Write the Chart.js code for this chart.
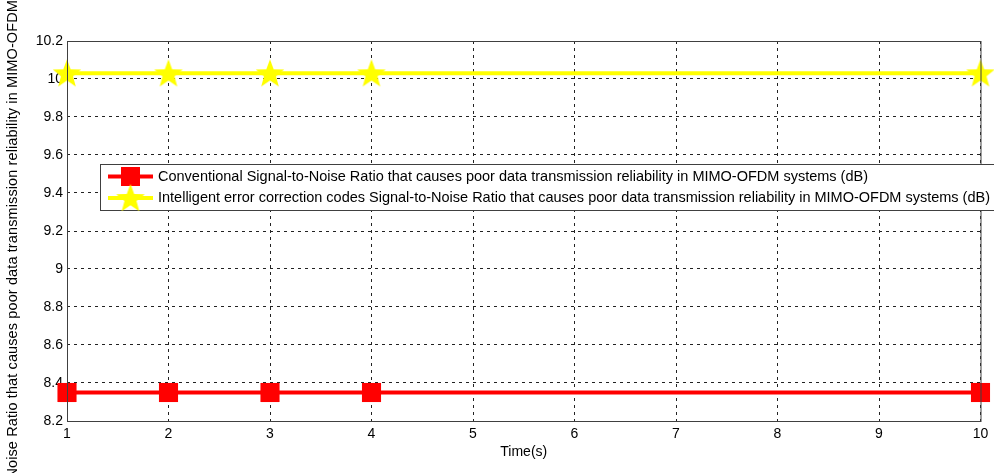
<!DOCTYPE html>
<html>
<head>
<meta charset="utf-8">
<script src="https://cdn.jsdelivr.net/npm/chart.js@4.4.0/dist/chart.umd.min.js"></script>
<style>
  html, body { margin: 0; padding: 0; background: #fff; }
  #wrap { width: 994px; height: 473px; position: relative; }
</style>
</head>
<body>
<div id="wrap"><canvas id="myChart"></canvas></div>
<script>
const timeValues = [1, 2, 3, 4, 10]
const conventionalSnr = [8.35, 8.35, 8.35, 8.35, 8.35]
const intelligentSnr = [10.03, 10.03, 10.03, 10.03, 10.03]
const xTicks = [1, 2, 3, 4, 5, 6, 7, 8, 9, 10]
const yTicks = [8.2, 8.4, 8.6, 8.8, 9, 9.2, 9.4, 9.6, 9.8, 10, 10.2]

const labelConventional = 'Conventional Signal-to-Noise Ratio that causes poor data transmission reliability in MIMO-OFDM systems (dB)'
const labelIntelligent = 'Intelligent error correction codes Signal-to-Noise Ratio that causes poor data transmission reliability in MIMO-OFDM systems (dB)'
const yTitle = 'Signal-to-Noise Ratio that causes poor data transmission reliability in MIMO-OFDM systems (dB)'

const FONT = 'Liberation Sans, Arial, Helvetica, sans-serif'

// filled five point star used as marker
const makeStar = (color, r) => {
  const c = document.createElement('canvas')
  const size = r * 2 + 2
  c.width = size
  c.height = size
  const g = c.getContext('2d')
  const cx = size / 2
  const cy = size / 2 + 1
  g.beginPath()
  for (let i = 0; i < 10; i++) {
    const rad = i % 2 === 0 ? r : r * 0.42
    const a = -Math.PI / 2 + i * Math.PI / 5
    const px = cx + rad * Math.cos(a)
    const py = cy + rad * Math.sin(a)
    if (i === 0) g.moveTo(px, py)
    else g.lineTo(px, py)
  }
  g.closePath()
  g.fillStyle = color
  g.fill()
  return c
}
const starImg = makeStar('#ffff00', 15)

const toPoints = (xs, ys) => xs.map((x, i) => ({ x, y: ys[i] }))

// spread text so it covers a given width
const fitSpacing = (ctx, text, width) => {
  ctx.letterSpacing = '0px'
  const w = ctx.measureText(text).width
  return (width - w) / text.length
}

const framePlugin = {
  id: 'frame',
  afterDraw(chart) {
    const { ctx, chartArea: a } = chart
    ctx.save()
    ctx.strokeStyle = '#404040'
    ctx.lineWidth = 1
    ctx.strokeRect(a.left + 0.5, a.top + 0.5, a.right - a.left, a.bottom - a.top)
    ctx.restore()
  }
}

const yTitlePlugin = {
  id: 'yTitle',
  afterDraw(chart) {
    const { ctx } = chart
    ctx.save()
    ctx.font = '14.5px ' + FONT
    const shown = yTitle.slice(yTitle.indexOf('oise'), yTitle.indexOf(' systems'))
    const sp = fitSpacing(ctx, shown, 468)
    ctx.letterSpacing = sp + 'px'
    const pre = ctx.measureText('Signal-to-N').width
    ctx.translate(13, 468 + pre)
    ctx.rotate(-Math.PI / 2)
    ctx.fillStyle = '#000'
    ctx.textAlign = 'left'
    ctx.textBaseline = 'middle'
    ctx.fillText(yTitle, 0, 0)
    ctx.restore()
  }
}

const legendPlugin = {
  id: 'boxLegend',
  afterDraw(chart) {
    const { ctx } = chart
    const left = 100
    const top = 164
    const right = 1000
    const bottom = 210
    const widths = [710, 832]
    ctx.save()
    ctx.fillStyle = '#fff'
    ctx.fillRect(left, top, right - left, bottom - top)
    ctx.strokeStyle = '#404040'
    ctx.lineWidth = 1
    ctx.strokeRect(left + 0.5, top + 0.5, right - left, bottom - top)
    const rows = [176.5, 198]
    chart.data.datasets.forEach((ds, i) => {
      const y = rows[i]
      ctx.letterSpacing = '0px'
      ctx.strokeStyle = ds.borderColor
      ctx.lineWidth = 4
      ctx.beginPath()
      ctx.moveTo(108, y)
      ctx.lineTo(153, y)
      ctx.stroke()
      if (ds.pointStyle === 'rect') {
        ctx.fillStyle = ds.pointBackgroundColor
        ctx.fillRect(121, y - 9.5, 19, 19)
      } else {
        ctx.drawImage(starImg, 130.5 - starImg.width / 2, y - starImg.height / 2)
      }
      ctx.fillStyle = '#000'
      ctx.font = '14.5px ' + FONT
      ctx.textBaseline = 'middle'
      const sp = fitSpacing(ctx, ds.label, widths[i])
      ctx.letterSpacing = sp + 'px'
      ctx.fillText(ds.label, 158, y)
    })
    ctx.restore()
  }
}

const fmt = v => String(Number(v.toFixed(1)))

const config = {
  type: 'line',
  data: {
    datasets: [
      {
        label: labelConventional,
        data: toPoints(timeValues, conventionalSnr),
        borderColor: '#ff0000',
        backgroundColor: '#ff0000',
        pointBackgroundColor: '#ff0000',
        pointBorderColor: '#ff0000',
        borderWidth: 4,
        pointStyle: 'rect',
        pointRadius: 13.5,
        pointBorderWidth: 0,
        fill: false
      },
      {
        label: labelIntelligent,
        data: toPoints(timeValues, intelligentSnr),
        borderColor: '#ffff00',
        backgroundColor: '#ffff00',
        pointBackgroundColor: '#ffff00',
        borderWidth: 4,
        pointStyle: starImg,
        fill: false
      }
    ]
  },
  options: {
    responsive: true,
    maintainAspectRatio: false,
    animation: false,
    clip: false,
    layout: { padding: { top: 41, right: 11, left: 0, bottom: 12 } },
    plugins: {
      legend: { display: false },
      tooltip: { enabled: false }
    },
    scales: {
      x: {
        type: 'linear',
        min: 1,
        max: 10,
        afterBuildTicks: axis => { axis.ticks = xTicks.map(v => ({ value: v })) },
        afterFit: axis => { axis.height = 40 },
        grid: {
          color: '#222',
          lineWidth: 1,
          drawTicks: false
        },
        border: { display: false, dash: [3, 4] },
        ticks: {
          color: '#000',
          padding: 5,
          maxRotation: 0,
          callback: v => fmt(v),
          font: { family: FONT, size: 14 }
        },
        title: {
          display: true,
          text: 'Time(s)',
          color: '#000',
          padding: { top: 0, bottom: 0 },
          font: { family: FONT, size: 14 }
        }
      },
      y: {
        min: 8.2,
        max: 10.2,
        afterBuildTicks: axis => { axis.ticks = yTicks.map(v => ({ value: v })) },
        afterFit: axis => { axis.width = 67 },
        grid: {
          color: '#222',
          lineWidth: 1,
          drawTicks: false
        },
        border: { display: false, dash: [3, 4] },
        ticks: {
          color: '#000',
          padding: 4,
          callback: v => fmt(v),
          font: { family: FONT, size: 14 }
        }
      }
    }
  },
  plugins: [framePlugin, yTitlePlugin, legendPlugin]
}

const myChart = new Chart(document.getElementById('myChart').getContext('2d'), config)
</script>
</body>
</html>
